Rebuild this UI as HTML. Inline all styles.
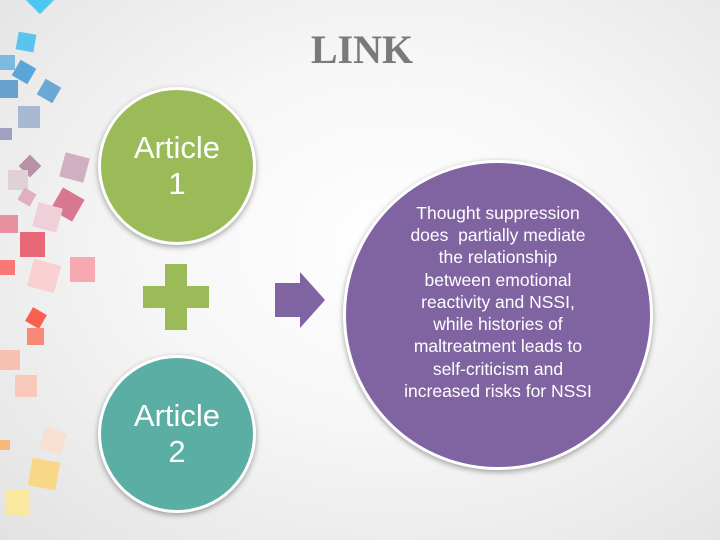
<!DOCTYPE html>
<html><head><style>
body{margin:0;width:720px;height:540px;overflow:hidden;position:relative;font-family:"Liberation Sans",sans-serif;
background:radial-gradient(ellipse at 55% 45%,#ffffff 0%,#f6f6f6 45%,#e2e2e2 100%);}
.s{position:absolute;}
.c{position:absolute;border-radius:50%;border:3px solid #fff;box-shadow:0 2px 6px rgba(0,0,0,.35);display:flex;align-items:center;justify-content:center;text-align:center;color:#fff;box-sizing:border-box;}
</style></head><body>
<div class="s" style="left:30px;top:-10px;width:20px;height:20px;background:#4ac8f0;transform:rotate(45deg)"></div>
<div class="s" style="left:17px;top:33px;width:18px;height:18px;background:#5ac3ee;transform:rotate(10deg)"></div>
<div class="s" style="left:0px;top:55px;width:15px;height:15px;background:#7bbbe0"></div>
<div class="s" style="left:15px;top:63px;width:18px;height:18px;background:#5aa6d8;transform:rotate(30deg)"></div>
<div class="s" style="left:0px;top:80px;width:18px;height:18px;background:#6aa0cc"></div>
<div class="s" style="left:40px;top:82px;width:18px;height:18px;background:#6ba9d4;transform:rotate(30deg)"></div>
<div class="s" style="left:18px;top:106px;width:22px;height:22px;background:#a8b8d0"></div>
<div class="s" style="left:0px;top:128px;width:12px;height:12px;background:#a0a0c0"></div>
<div class="s" style="left:22px;top:158px;width:16px;height:16px;background:#b890a8;transform:rotate(45deg)"></div>
<div class="s" style="left:62px;top:155px;width:25px;height:25px;background:#d0b0c0;transform:rotate(15deg)"></div>
<div class="s" style="left:8px;top:170px;width:20px;height:20px;background:#e0d0d8"></div>
<div class="s" style="left:55px;top:192px;width:25px;height:25px;background:#d87890;transform:rotate(30deg)"></div>
<div class="s" style="left:20px;top:190px;width:14px;height:14px;background:#e0b0c0;transform:rotate(30deg)"></div>
<div class="s" style="left:35px;top:205px;width:25px;height:25px;background:#f0d0d8;transform:rotate(15deg)"></div>
<div class="s" style="left:0px;top:215px;width:18px;height:18px;background:#e890a0"></div>
<div class="s" style="left:20px;top:232px;width:25px;height:25px;background:#e86878"></div>
<div class="s" style="left:70px;top:257px;width:25px;height:25px;background:#f8a8b0"></div>
<div class="s" style="left:0px;top:260px;width:15px;height:15px;background:#f87878"></div>
<div class="s" style="left:30px;top:262px;width:28px;height:28px;background:#f8d0d0;transform:rotate(15deg)"></div>
<div class="s" style="left:28px;top:310px;width:16px;height:16px;background:#f86050;transform:rotate(30deg)"></div>
<div class="s" style="left:27px;top:328px;width:17px;height:17px;background:#f88878"></div>
<div class="s" style="left:0px;top:350px;width:20px;height:20px;background:#f8c0b0"></div>
<div class="s" style="left:15px;top:375px;width:22px;height:22px;background:#f8c8b8"></div>
<div class="s" style="left:0px;top:440px;width:10px;height:10px;background:#f8b878"></div>
<div class="s" style="left:42px;top:430px;width:22px;height:22px;background:#f8e0d0;transform:rotate(20deg)"></div>
<div class="s" style="left:30px;top:460px;width:28px;height:28px;background:#f8d888;transform:rotate(10deg)"></div>
<div class="s" style="left:5px;top:490px;width:25px;height:25px;background:#f8e8a0"></div>

<div class="s" style="left:262px;top:26px;width:200px;text-align:center;font-family:'Liberation Serif',serif;font-weight:bold;font-size:40px;color:#7a7a7a;">LINK</div>

<div class="c" style="left:98px;top:87px;width:158px;height:158px;background:#9bbb59;font-size:31px;line-height:36px;">Article<br>1</div>
<div class="c" style="left:98px;top:355px;width:158px;height:158px;background:#5aaea3;font-size:31px;line-height:36px;">Article<br>2</div>

<div class="s" style="left:143px;top:286px;width:66px;height:22px;background:#9bbb59"></div>
<div class="s" style="left:165px;top:264px;width:22px;height:66px;background:#9bbb59"></div>

<svg class="s" style="left:272px;top:270px" width="56" height="60"><polygon points="3,13 28,13 28,2 53,30 28,58 28,47 3,47" fill="#8064a2"/></svg>

<div class="c" style="left:343px;top:160px;width:310px;height:310px;background:#8064a2;font-size:17.5px;line-height:22.3px;padding-bottom:26px;">Thought suppression<br>does&nbsp; partially mediate<br>the relationship<br>between emotional<br>reactivity and NSSI,<br>while histories of<br>maltreatment leads to<br>self-criticism and<br>increased risks for NSSI</div>
</body></html>
